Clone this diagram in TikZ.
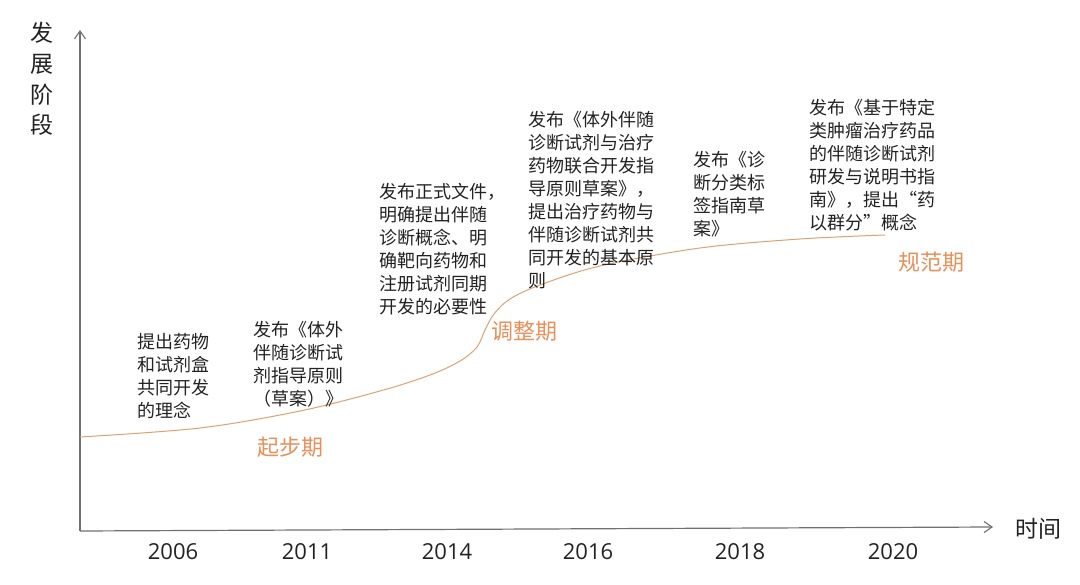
\documentclass[tikz,border=0pt]{standalone}
\usepackage{fontspec}
\setmainfont{Open Sans}
\newfontfamily\cjk{Noto Sans CJK SC}
\usetikzlibrary{arrows.meta}
\definecolor{axisgray}{HTML}{707070}
\definecolor{stageorange}{HTML}{E88F5A}
\definecolor{curveorange}{HTML}{DDA272}
\definecolor{txt}{HTML}{222222}
\tikzset{
  axis/.style={draw=axisgray, line width=1.2pt, -{Straight Barb[length=8pt,width=11pt,line width=1.1pt]}},
  event/.style={anchor=north west, align=left, inner sep=0pt, text=txt, font=\cjk\fontsize{18}{23}\selectfont},
  stage/.style={inner sep=0pt, text=stageorange, font=\cjk\fontsize{22}{26}\selectfont},
  year/.style={inner sep=0pt, text=txt, font=\fontsize{22}{26}\selectfont},
  axlabel/.style={inner sep=0pt, text=txt, font=\cjk\fontsize{23}{30.7}\selectfont, align=center}
}
\begin{document}
\begin{tikzpicture}[x=1pt,y=-1pt]
\useasboundingbox (0,0) rectangle (1080,585);
% axes
\coordinate (O) at (80,531);
\coordinate (ytip) at (80,30);
\coordinate (xtip) at (993,527);
\draw[axis] (O) -- (ytip);
\draw[axis] (O) -- (xtip);
\node[axlabel, anchor=north] (ylab) at (42,22) {发\\展\\阶\\段};
\node[axlabel] (xlab) at (1038,529) {时间};
% years
\node[year] (y2006) at (173,552) {2006};
\node[year] (y2011) at (307,552) {2011};
\node[year] (y2014) at (447,552) {2014};
\node[year] (y2016) at (588,552) {2016};
\node[year] (y2018) at (740,552) {2018};
\node[year] (y2020) at (893,552) {2020};
% curve
\draw[curveorange, line width=1pt] plot[smooth, tension=0.55] coordinates {
 (80,437) (200,428) (300,411) (380,391) (430,375) (460,361) (477,347) (485,330) (494,314) (510,299) (540,285) (600,266) (700,248) (800,239) (885,235)};
% stages
\node[stage] (s1) at (290,447) {起步期};
\node[stage] (s2) at (524,331) {调整期};
\node[stage] (s3) at (931,262) {规范期};
% events
\node[event] (e1) at (137,333) {提出药物\\和试剂盒\\共同开发\\的理念};
\node[event] (e2) at (253,321) {发布《体外\\伴随诊断试\\剂指导原则\\（草案）》};
\node[event] (e3) at (379,183) {发布正式文件，\\明确提出伴随\\诊断概念、明\\确靶向药物和\\注册试剂同期\\开发的必要性};
\node[event] (e4) at (528,111) {发布《体外伴随\\诊断试剂与治疗\\药物联合开发指\\导原则草案》，\\提出治疗药物与\\伴随诊断试剂共\\同开发的基本原\\则};
\node[event] (e5) at (693,151) {发布《诊\\断分类标\\签指南草\\案》};
\node[event] (e6) at (809,99) {发布《基于特定\\类肿瘤治疗药品\\的伴随诊断试剂\\研发与说明书指\\南》，提出“药\\以群分”概念};
\end{tikzpicture}
\end{document}
